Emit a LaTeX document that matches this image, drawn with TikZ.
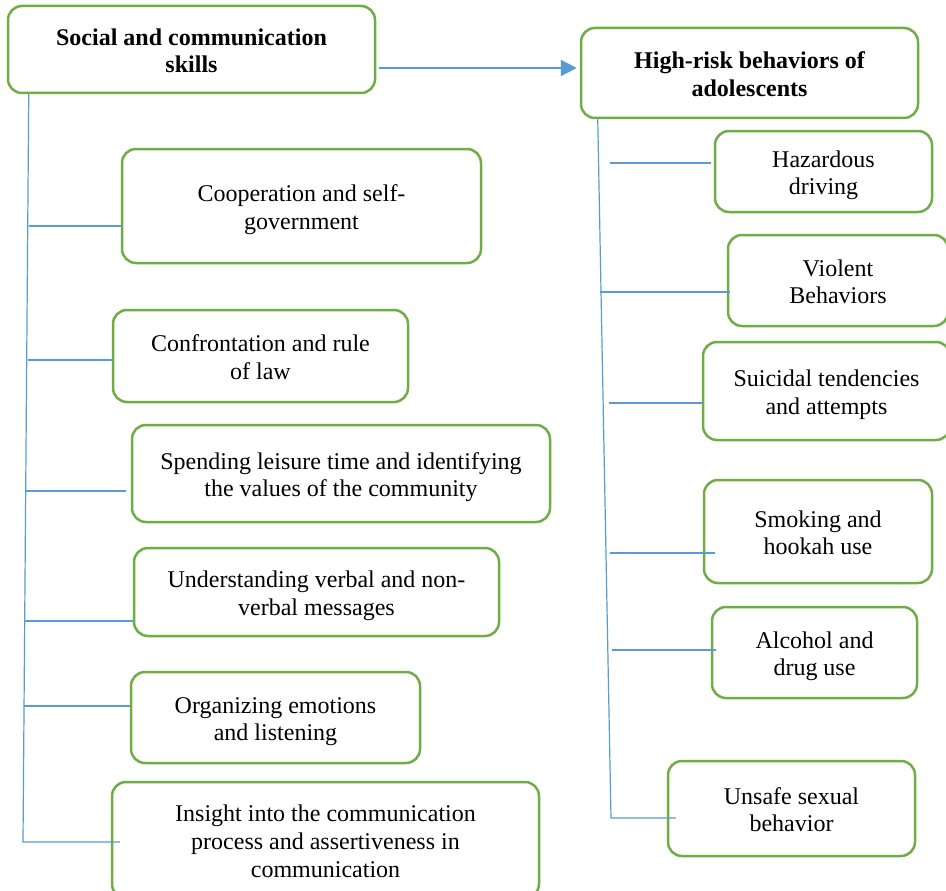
\documentclass[tikz,border=0pt]{standalone}
\usepackage{fontspec}
\setmainfont{Liberation Serif}
\usetikzlibrary{arrows.meta}
\definecolor{boxgreen}{HTML}{70AD47}
\definecolor{lineblue}{HTML}{5B9BD5}
\newcommand{\boxtext}[1]{\raisebox{-4pt}[\height][\depth]{\begin{tabular}{@{}c@{}}#1\end{tabular}}}
\begin{document}
\begin{tikzpicture}[x=1pt,y=-1pt,
  box/.style={draw=boxgreen, line width=2.5pt, rounded corners=14pt, fill=white,
    inner sep=0pt, font=\fontsize{24}{27.6}\selectfont},
  titlebox/.style={box, font=\fontsize{24}{27.6}\selectfont\bfseries},
  branch/.style={draw=lineblue, line width=1.2pt},
  mainarrow/.style={draw=lineblue, line width=2.5pt, -{Triangle[length=16pt,width=16pt]}}
]
\useasboundingbox (0,0) rectangle (946,891);
\fill[white] (0,0) rectangle (946,891);

% title boxes
\node[titlebox, minimum width=367pt, minimum height=87pt] (soc) at (191.5,49.5)
  {\boxtext{Social and communication\\skills}};
\node[titlebox, minimum width=337pt, minimum height=90pt] (high) at (749.5,73)
  {\boxtext{High-risk behaviors of\\adolescents}};

% right column
\node[box, minimum width=217pt, minimum height=81pt] (haz) at (823.5,171.5) {\boxtext{Hazardous\\driving}};
\node[box, minimum width=220pt, minimum height=91pt] (vio) at (838,280.5) {\boxtext{Violent\\Behaviors}};
\node[box, minimum width=247pt, minimum height=98pt] (sui) at (826.5,391) {\boxtext{Suicidal tendencies\\and attempts}};
\node[box, minimum width=228pt, minimum height=103pt] (smo) at (818,531.5) {\boxtext{Smoking and\\hookah use}};
\node[box, minimum width=205pt, minimum height=91pt] (alc) at (814.5,652.5) {\boxtext{Alcohol and\\drug use}};
\node[box, minimum width=247pt, minimum height=95pt] (uns) at (791.5,808.5) {\boxtext{Unsafe sexual\\behavior}};

% left column
\node[box, minimum width=359pt, minimum height=114pt] (coop) at (301.5,206) {\boxtext{Cooperation and self-\\government}};
\node[box, minimum width=295pt, minimum height=92pt] (conf) at (260.5,356) {\boxtext{Confrontation and rule\\of law}};
\node[box, minimum width=418pt, minimum height=97pt] (spen) at (341,473.5) {\boxtext{Spending leisure time and identifying\\the values of the community}};
\node[box, minimum width=365pt, minimum height=88pt] (unde) at (316.5,592) {\boxtext{Understanding verbal and non-\\verbal messages}};
\node[box, minimum width=289pt, minimum height=91pt] (orga) at (275.5,717.5) {\boxtext{Organizing emotions\\and listening}};
\node[box, minimum width=427pt, minimum height=116pt] (insi) at (325.5,840) {\boxtext{Insight into the communication\\process and assertiveness in\\communication}};

% main arrow
\coordinate (a1) at (379,68);
\draw[mainarrow] (a1) -- ([xshift=-3pt]a1 -| high.west);

% left tree
\coordinate (ltop) at ([xshift=22pt]soc.south west);
\coordinate (lbot) at (23,842);
\draw[branch] (ltop) -- (lbot) -- ([xshift=9pt]insi.west |- lbot);
\coordinate (l1) at (29,226);
\coordinate (l2) at (27.5,360);
\coordinate (l3) at (26.3,491);
\coordinate (l4) at (25.1,621);
\coordinate (l5) at (24.3,706);
\draw[branch] (l1) -- (l1 -| coop.west);
\draw[branch] (l2) -- (l2 -| conf.west);
\draw[branch] (l3) -- ([xshift=-5pt]l3 -| spen.west);
\draw[branch] (l4) -- (l4 -| unde.west);
\draw[branch] (l5) -- (l5 -| orga.west);

% right tree
\coordinate (rtop) at ([xshift=18pt]high.south west);
\coordinate (rbot) at (611,818);
\draw[branch] (rtop) -- (rbot) -- ([xshift=9pt]uns.west |- rbot);
\coordinate (r1) at (610,163);
\coordinate (r2) at (600,292);
\coordinate (r3) at (609,403);
\coordinate (r4) at (610,553);
\coordinate (r5) at (612,650);
\draw[branch] (r1) -- ([xshift=-3pt]r1 -| haz.west);
\draw[branch] (r2) -- ([xshift=3pt]r2 -| vio.west);
\draw[branch] (r3) -- (r3 -| sui.west);
\draw[branch] (r4) -- ([xshift=12pt]r4 -| smo.west);
\draw[branch] (r5) -- ([xshift=5pt]r5 -| alc.west);
\end{tikzpicture}
\end{document}
